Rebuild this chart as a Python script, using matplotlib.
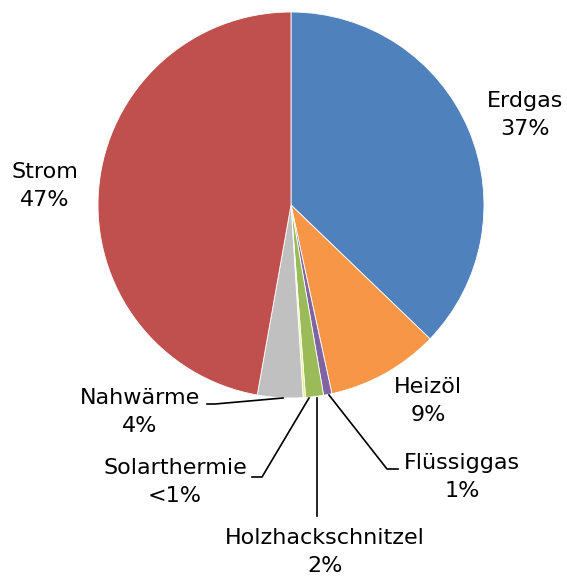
import matplotlib.pyplot as plt

# Anteile (%) im Uhrzeigersinn ab 12 Uhr
kategorien = ['Erdgas', 'Heizöl', 'Flüssiggas', 'Holzhackschnitzel', 'Solarthermie', 'Nahwärme', 'Strom']
werte = [37.2, 9.4, 0.7, 1.5, 0.2, 3.8, 47.2]
prozent_text = ['37%', '9%', '1%', '2%', '<1%', '4%', '47%']
farben = ['#4F81BD', '#F79646', '#8064A2', '#9BBB59', '#EEEE88', '#C0C0C0', '#C0504D']

H = 578
fig = plt.figure(figsize=(5.67, 5.78), dpi=100)
ax = fig.add_axes([0, 0, 1, 1])

ax.pie(werte, colors=farben, startangle=90, counterclock=False,
       center=(291, H - 205), radius=193, frame=True,
       wedgeprops=dict(edgecolor='white', linewidth=0.6))
ax.set_xlim(0, 567)
ax.set_ylim(0, H)
ax.axis('off')

# Beschriftungen (Pixelposition, y von oben)
pos = {
    'Erdgas': (525, 115),
    'Heizöl': (428, 401),
    'Flüssiggas': (462, 477),
    'Holzhackschnitzel': (325, 552),
    'Solarthermie': (175, 482),
    'Nahwärme': (140, 412),
    'Strom': (45, 186),
}
for k, p in zip(kategorien, prozent_text):
    x, y = pos[k]
    ax.text(x, H - y, k + '\n' + p, ha='center', va='center',
            fontsize=16, linespacing=1.5, color='black')

# Führungslinien
linien = [
    [(207, 404), (215, 404), (283, 398)],
    [(252, 477), (262, 477), (309, 398)],
    [(317, 398), (317, 516)],
    [(329, 395), (387, 469), (398, 469)],
]
for pts in linien:
    xs = [a for a, b in pts]
    ys = [H - b for a, b in pts]
    ax.plot(xs, ys, color='black', linewidth=1.2)

fig.savefig('out.png', dpi=100)
